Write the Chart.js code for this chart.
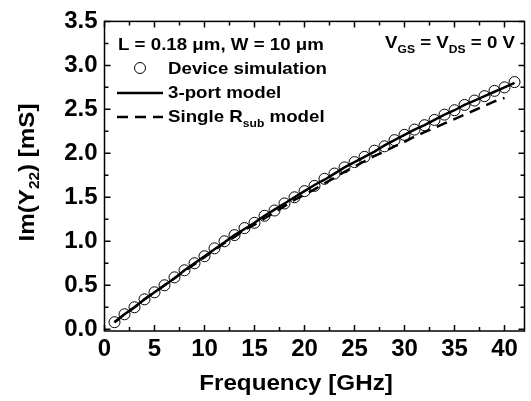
<!DOCTYPE html>
<html>
<head>
<meta charset="utf-8">
<script src="https://cdn.jsdelivr.net/npm/chart.js@4.4.1/dist/chart.umd.min.js"></script>
<style>
  html, body { margin: 0; padding: 0; background: #fff; }
  #wrap { width: 531px; height: 401px; }
</style>
</head>
<body>
<div id="wrap"><canvas id="grafico" width="531" height="401"></canvas></div>
<script>
// frequency points [GHz]
const freq = [1, 2, 3, 4, 5, 6, 7, 8, 9, 10, 11, 12, 13, 14, 15, 16, 17, 18, 19, 20,
              21, 22, 23, 24, 25, 26, 27, 28, 29, 30, 31, 32, 33, 34, 35, 36, 37, 38, 39, 40, 41];
// Im(Y22) [mS]
const deviceSim = [0.08, 0.17, 0.25, 0.34, 0.42, 0.50, 0.59, 0.67, 0.75, 0.83, 0.92, 1.00, 1.07, 1.15, 1.21,
                   1.29, 1.35, 1.43, 1.50, 1.57, 1.63, 1.71, 1.77, 1.84, 1.90, 1.96, 2.03, 2.08, 2.15, 2.21,
                   2.27, 2.32, 2.38, 2.44, 2.49, 2.55, 2.60, 2.65, 2.71, 2.75, 2.81];
const threePort = [0.08, 0.17, 0.25, 0.34, 0.42, 0.50, 0.58, 0.67, 0.75, 0.83, 0.91, 0.99, 1.07, 1.14, 1.21,
                   1.29, 1.36, 1.43, 1.50, 1.57, 1.64, 1.70, 1.77, 1.84, 1.90, 1.96, 2.02, 2.09, 2.15, 2.21,
                   2.27, 2.32, 2.38, 2.44, 2.49, 2.55, 2.60, 2.65, 2.70, 2.75, 2.80];
// single Rsub model stops at 40 GHz
const singleRsub = [0.08, 0.17, 0.25, 0.34, 0.42, 0.50, 0.58, 0.66, 0.74, 0.82, 0.90, 0.98, 1.05, 1.13, 1.19,
                    1.26, 1.33, 1.40, 1.47, 1.53, 1.59, 1.66, 1.72, 1.79, 1.85, 1.91, 1.97, 2.02, 2.08, 2.13,
                    2.19, 2.24, 2.29, 2.34, 2.39, 2.44, 2.49, 2.54, 2.59, 2.63];
const xTicks = [0, 5, 10, 15, 20, 25, 30, 35, 40];
const yTicks = [0.0, 0.5, 1.0, 1.5, 2.0, 2.5, 3.0, 3.5];

const FONT = "'Liberation Sans', Arial, sans-serif";
const STRETCH = 1.1; // text in the figure is a bit wider than plain Arial

function pts(xs, ys) {
    return ys.map((v, i) => ({ x: xs[i], y: v }));
}

// inward ticks on all four sides + frame
const frame = {
    id: 'frame',
    afterDraw(chart) {
        const { ctx, chartArea: a, scales: { x, y } } = chart;
        ctx.save();
        ctx.strokeStyle = '#000';
        ctx.lineWidth = 1.5;
        ctx.strokeRect(a.left, a.top, a.right - a.left, a.bottom - a.top);
        ctx.beginPath();
        for (let v = 0; v <= 42; v += 2.5) {
            const px = x.getPixelForValue(v);
            const len = (v % 5 === 0) ? 6 : 4;
            ctx.moveTo(px, a.bottom); ctx.lineTo(px, a.bottom - len);
            ctx.moveTo(px, a.top); ctx.lineTo(px, a.top + len);
        }
        for (let v = 0; v <= 3.5; v += 0.25) {
            const py = y.getPixelForValue(v);
            const len = (Math.round(v * 4) % 2 === 0) ? 6 : 4;
            ctx.moveTo(a.left, py); ctx.lineTo(a.left + len, py);
            ctx.moveTo(a.right, py); ctx.lineTo(a.right - len, py);
        }
        ctx.stroke();
        ctx.restore();
    }
};

// draws text runs: [text, size, baselineShift], stretched horizontally
function drawRuns(ctx, x, y, runs) {
    ctx.save();
    ctx.translate(x, y);
    ctx.scale(STRETCH, 1);
    let cx = 0;
    runs.forEach(r => {
        ctx.font = `bold ${r[1]}px ${FONT}`;
        ctx.fillText(r[0], cx, r[2] || 0);
        cx += ctx.measureText(r[0]).width;
    });
    ctx.restore();
    return cx * STRETCH;
}

function runsWidth(ctx, runs) {
    let w = 0;
    runs.forEach(r => {
        ctx.font = `bold ${r[1]}px ${FONT}`;
        w += ctx.measureText(r[0]).width;
    });
    return w * STRETCH;
}

const labels = {
    id: 'labels',
    afterDraw(chart) {
        const ctx = chart.ctx;
        ctx.save();
        ctx.fillStyle = '#000';
        ctx.strokeStyle = '#000';
        ctx.textBaseline = 'alphabetic';
        ctx.textAlign = 'left';

        // legend block
        drawRuns(ctx, 118, 50, [['L = 0.18 \u03BCm, W = 10 \u03BCm', 17]]);
        drawRuns(ctx, 168, 74, [['Device simulation', 17]]);
        drawRuns(ctx, 168, 98, [['3-port model', 17]]);
        drawRuns(ctx, 168, 122, [['Single R', 17], ['sub', 11, 5], [' model', 17]]);

        ctx.lineWidth = 1;
        ctx.beginPath();
        ctx.arc(140, 68, 5.5, 0, Math.PI * 2);
        ctx.stroke();

        ctx.lineWidth = 2.5;
        ctx.beginPath();
        ctx.moveTo(117, 93); ctx.lineTo(163, 93);
        ctx.stroke();
        ctx.setLineDash([11, 7]);
        ctx.beginPath();
        ctx.moveTo(117, 117); ctx.lineTo(163, 117);
        ctx.stroke();
        ctx.setLineDash([]);

        // bias condition, right-aligned to about x=515
        const vRuns = [['V', 17], ['GS', 11, 5], [' = V', 17], ['DS', 11, 5], [' = 0 V', 17]];
        drawRuns(ctx, 515 - runsWidth(ctx, vRuns), 48, vRuns);

        // x title
        const xRuns = [['Frequency [GHz]', 22]];
        drawRuns(ctx, 296 - runsWidth(ctx, xRuns) / 2, 390, xRuns);

        // y title (rotated, with subscript)
        const yRuns = [['Im(Y', 22], ['22', 14, 5], [') [mS]', 22]];
        const w = runsWidth(ctx, yRuns);
        ctx.translate(34, 172.5 + w / 2);
        ctx.rotate(-Math.PI / 2);
        drawRuns(ctx, 0, 0, yRuns);
        ctx.restore();
    }
};

new Chart(document.getElementById('grafico'), {
    type: 'scatter',
    data: {
        datasets: [
            {
                label: 'Device simulation',
                data: pts(freq, deviceSim),
                pointStyle: 'circle',
                pointRadius: 5.5,
                pointBorderWidth: 1,
                pointBorderColor: '#000',
                pointBackgroundColor: 'rgba(0,0,0,0)',
                showLine: false,
                order: 2
            },
            {
                label: '3-port model',
                data: pts(freq, threePort),
                showLine: true,
                borderColor: '#000',
                borderWidth: 2.5,
                pointRadius: 0,
                tension: 0,
                order: 0
            },
            {
                label: 'Single Rsub model',
                data: pts(freq, singleRsub),
                showLine: true,
                borderColor: '#000',
                borderWidth: 2.5,
                borderDash: [11, 7],
                pointRadius: 0,
                tension: 0,
                order: 1
            }
        ]
    },
    options: {
        responsive: false,
        animation: false,
        devicePixelRatio: 1,
        layout: { padding: { top: 17, right: 1.5, left: 0, bottom: 0 } },
        plugins: { legend: { display: false }, tooltip: { enabled: false } },
        scales: {
            x: {
                type: 'linear',
                min: 0,
                max: 42,
                afterFit(s) { s.height = 70; },
                afterBuildTicks(s) { s.ticks = xTicks.map(v => ({ value: v })); },
                grid: { display: false, drawTicks: false },
                border: { display: false },
                ticks: {
                    color: '#000',
                    padding: 4,
                    font: { family: FONT, weight: 'bold', size: 24 },
                    callback: v => String(v)
                }
            },
            y: {
                type: 'linear',
                min: -0.02,
                max: 3.5,
                afterFit(s) { s.width = 104.5; },
                afterBuildTicks(s) { s.ticks = yTicks.map(v => ({ value: v })); },
                grid: { display: false, drawTicks: false },
                border: { display: false },
                ticks: {
                    color: '#000',
                    padding: 7,
                    font: { family: FONT, weight: 'bold', size: 24 },
                    callback: v => Number(v).toFixed(1)
                }
            }
        }
    },
    plugins: [frame, labels]
});
</script>
</body>
</html>
